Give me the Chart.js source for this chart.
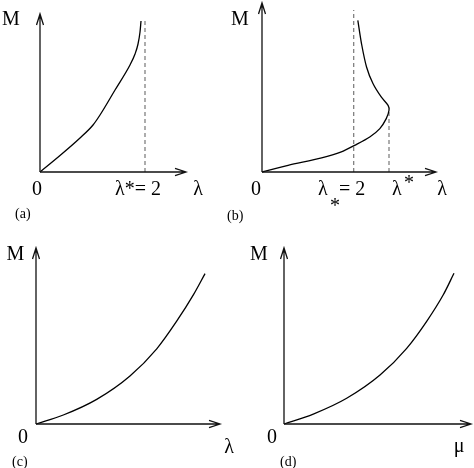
<!DOCTYPE html>
<html>
<head>
<meta charset="utf-8">
<script src="https://cdn.jsdelivr.net/npm/chart.js@4.4.1/dist/chart.umd.min.js"></script>
<style>
  body { margin: 0; background: #fff; }
  #wrap { position: relative; width: 474px; height: 468px; }
  #wrap canvas { position: absolute; left: 0; top: 0; }
</style>
</head>
<body>
<div id="wrap">
  <canvas id="pa" width="474" height="468"></canvas>
  <canvas id="pb" width="474" height="468"></canvas>
  <canvas id="pc" width="474" height="468"></canvas>
  <canvas id="pd" width="474" height="468"></canvas>
</div>
<script>
// (a) M vs lambda, blows up at lambda* = 2
const lambdaA = [0, 0.381, 0.762, 1.010, 1.143, 1.429, 1.714, 1.810, 1.867, 1.905, 1.924]
const massA = [0, 1.044, 2.152, 2.975, 3.608, 5.190, 6.772, 7.468, 8.101, 8.861, 9.557]
const critA = [2, 2]
const critMassA = [0, 9.7]

// (b) M vs lambda, fold at lambda*, asymptote lambda_* = 2
const lambdaB = [0, 0.57, 1.30, 1.73, 2.02, 2.35, 2.57, 2.71, 2.77, 2.75, 2.60, 2.42, 2.28, 2.17, 2.09]
const massB = [0, 0.42, 0.89, 1.27, 1.69, 2.22, 2.75, 3.38, 3.91, 4.22, 4.75, 5.60, 6.65, 8.13, 9.60]
const lowCritB = [2, 2]
const lowCritMassB = [0, 10.25]
const foldB = [2.77, 2.77]
const foldMassB = [0, 3.91]

// (c) M vs lambda
const lambdaC = [0, 0.52, 1.156, 1.79, 2.30, 2.68, 3.00, 3.22]
const massC = [0, 0.57, 1.56, 3.04, 4.76, 6.51, 8.19, 9.52]

// (d) M vs mu
const muD = [0, 0.558, 1.194, 1.829, 2.337, 2.718, 3.034, 3.238]
const massD = [0, 0.63, 1.63, 3.10, 4.79, 6.50, 8.18, 9.54]

const pts = (xs, ys) => xs.map((x, i) => ({ x: x, y: ys[i] }))

const curve = (xs, ys, mono) => ({
  data: pts(xs, ys),
  showLine: true,
  borderColor: '#000',
  borderWidth: 1.3,
  pointRadius: 0,
  tension: 0.3,
  cubicInterpolationMode: mono ? 'monotone' : 'default',
  clip: false
})

const dashed = (xs, ys) => ({
  data: pts(xs, ys),
  showLine: true,
  borderColor: '#777',
  borderWidth: 1.2,
  borderDash: [4, 3],
  pointRadius: 0,
  clip: false
})

// axes with open arrow heads + text labels placed from the origin pixel
const sketch = {
  id: 'sketch',
  afterDraw (chart, args, opts) {
    const ctx = chart.ctx
    const a = chart.chartArea
    const x0 = chart.scales.x.getPixelForValue(0)
    const y0 = chart.scales.y.getPixelForValue(0)
    ctx.save()
    ctx.strokeStyle = '#111'
    ctx.lineWidth = 1.3
    ctx.beginPath()
    ctx.moveTo(x0, y0); ctx.lineTo(a.right, y0)
    ctx.moveTo(a.right - 11, y0 - 3.7); ctx.lineTo(a.right, y0); ctx.lineTo(a.right - 11, y0 + 3.7)
    ctx.moveTo(x0, y0); ctx.lineTo(x0, a.top)
    ctx.moveTo(x0 - 3.5, a.top + 11); ctx.lineTo(x0, a.top); ctx.lineTo(x0 + 3.5, a.top + 11)
    ctx.stroke()
    ctx.fillStyle = '#000'
    ctx.textBaseline = 'alphabetic'
    opts.labels.forEach(l => {
      ctx.font = (l.size || 20) + 'px "Liberation Serif", "Times New Roman", serif'
      ctx.textAlign = l.align || 'center'
      ctx.fillText(l.text, x0 + l.dx, y0 + l.dy)
    })
    ctx.restore()
  }
}

function panel (id, datasets, xMax, yMax, padding, labels) {
  new Chart(document.getElementById(id), {
    type: 'scatter',
    data: { datasets: datasets },
    options: {
      responsive: false,
      animation: false,
      layout: { padding: padding },
      scales: {
        x: { type: 'linear', min: 0, max: xMax, display: false },
        y: { type: 'linear', min: 0, max: yMax, display: false }
      },
      plugins: {
        legend: { display: false },
        tooltip: { enabled: false },
        sketch: { labels: labels }
      }
    },
    plugins: [sketch]
  })
}

panel('pa', [curve(lambdaA, massA, true), dashed(critA, critMassA)], 2.781, 10.0,
  { left: 40, top: 14, right: 288, bottom: 296 },
  [
    { text: 'M', dx: -29, dy: -147 },
    { text: '0', dx: -3, dy: 23 },
    { text: 'λ*= 2', dx: 75, dy: 23, align: 'left' },
    { text: 'λ', dx: 158, dy: 23 },
    { text: '(a)', dx: -25, dy: 46, align: 'left', size: 14 }
  ])

panel('pb', [curve(lambdaB, massB, false), dashed(lowCritB, lowCritMassB), dashed(foldB, foldMassB)], 3.795, 10.7,
  { left: 262, top: 3, right: 38, bottom: 296 },
  [
    { text: 'M', dx: -22, dy: -147 },
    { text: '0', dx: -6, dy: 23 },
    { text: 'λ', dx: 56, dy: 23, align: 'left' },
    { text: '*', dx: 68, dy: 40, align: 'left' },
    { text: '= 2', dx: 77, dy: 23, align: 'left' },
    { text: 'λ', dx: 130, dy: 23, align: 'left' },
    { text: '*', dx: 142, dy: 17, align: 'left' },
    { text: 'λ', dx: 180, dy: 23 },
    { text: '(b)', dx: -35, dy: 48, align: 'left', size: 14 }
  ])

panel('pc', [curve(lambdaC, massC, true)], 3.505, 11.14,
  { left: 36, top: 248, right: 254, bottom: 44 },
  [
    { text: 'M', dx: -20.5, dy: -164 },
    { text: '0', dx: -13, dy: 19 },
    { text: 'λ', dx: 193, dy: 29 },
    { text: '(c)', dx: -24, dy: 42, align: 'left', size: 14 }
  ])

panel('pd', [curve(muD, massD, true)], 3.562, 11.14,
  { left: 284, top: 248, right: 3, bottom: 44 },
  [
    { text: 'M', dx: -25, dy: -164 },
    { text: '0', dx: -12, dy: 19 },
    { text: 'μ', dx: 175, dy: 28 },
    { text: '(d)', dx: -4, dy: 42, align: 'left', size: 14 }
  ])
</script>
</body>
</html>
